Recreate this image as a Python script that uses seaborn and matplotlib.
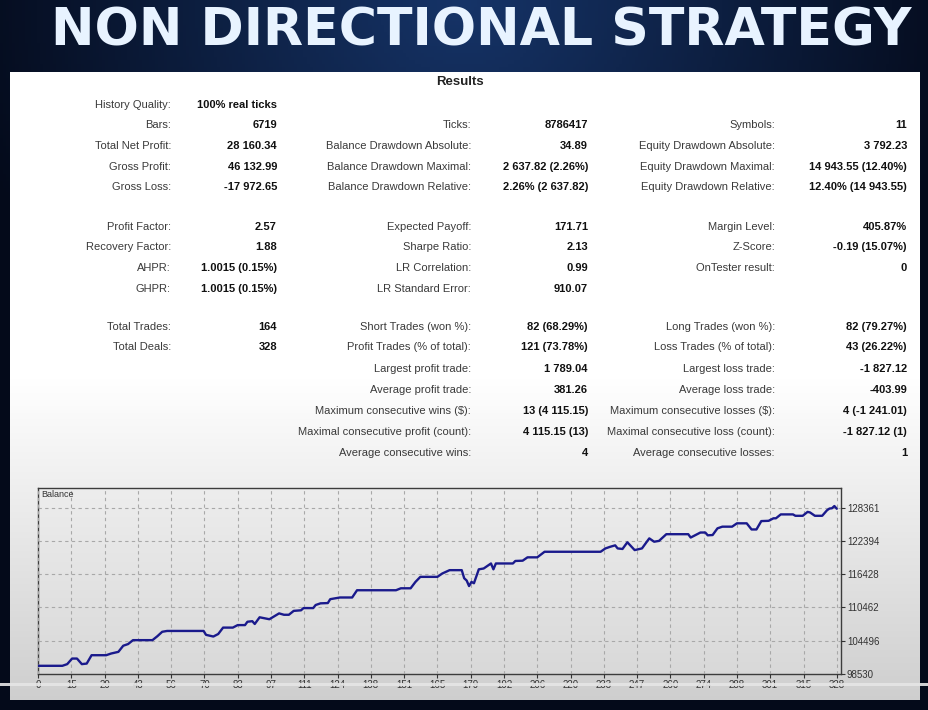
import numpy as np
import pandas as pd
import matplotlib
matplotlib.use("Agg")
import matplotlib.pyplot as plt
import seaborn as sns
from matplotlib.patches import Rectangle

# ---------------- data ----------------
title = "NON DIRECTIONAL STRATEGY"
section = "Results"

col1_labels = ["History Quality:", "Bars:", "Total Net Profit:", "Gross Profit:", "Gross Loss:",
               "Profit Factor:", "Recovery Factor:", "AHPR:", "GHPR:",
               "Total Trades:", "Total Deals:"]
col1_values = ["100% real ticks", "6719", "28 160.34", "46 132.99", "-17 972.65",
               "2.57", "1.88", "1.0015 (0.15%)", "1.0015 (0.15%)",
               "164", "328"]
col1_rows = [0, 1, 2, 3, 4, 5, 6, 7, 8, 9, 10]

col2_labels = ["Ticks:", "Balance Drawdown Absolute:", "Balance Drawdown Maximal:", "Balance Drawdown Relative:",
               "Expected Payoff:", "Sharpe Ratio:", "LR Correlation:", "LR Standard Error:",
               "Short Trades (won %):", "Profit Trades (% of total):", "Largest profit trade:",
               "Average profit trade:", "Maximum consecutive wins ($):", "Maximal consecutive profit (count):",
               "Average consecutive wins:"]
col2_values = ["8786417", "34.89", "2 637.82 (2.26%)", "2.26% (2 637.82)",
               "171.71", "2.13", "0.99", "910.07",
               "82 (68.29%)", "121 (73.78%)", "1 789.04",
               "381.26", "13 (4 115.15)", "4 115.15 (13)",
               "4"]
col2_rows = [1, 2, 3, 4, 5, 6, 7, 8, 9, 10, 11, 12, 13, 14, 15]

col3_labels = ["Symbols:", "Equity Drawdown Absolute:", "Equity Drawdown Maximal:", "Equity Drawdown Relative:",
               "Margin Level:", "Z-Score:", "OnTester result:",
               "Long Trades (won %):", "Loss Trades (% of total):", "Largest loss trade:",
               "Average loss trade:", "Maximum consecutive losses ($):", "Maximal consecutive loss (count):",
               "Average consecutive losses:"]
col3_values = ["11", "3 792.23", "14 943.55 (12.40%)", "12.40% (14 943.55)",
               "405.87%", "-0.19 (15.07%)", "0",
               "82 (79.27%)", "43 (26.22%)", "-1 827.12",
               "-403.99", "4 (-1 241.01)", "-1 827.12 (1)",
               "1"]
col3_rows = [1, 2, 3, 4, 5, 6, 7, 9, 10, 11, 12, 13, 14, 15]

row_y = [105, 125.5, 146, 167, 187.5, 227, 247.5, 268, 289, 327, 347.5, 369, 390, 411, 432, 453]

deal = [0, 10, 12, 14, 16, 18, 20, 22, 28, 30, 33, 35, 37, 39, 47, 49, 51, 53, 68, 69,
        72, 74, 76, 80, 82, 85, 86, 88, 89, 91, 95, 99, 101, 103, 105, 108, 109, 113, 114, 116,
        119, 120, 124, 129, 131, 147, 149, 153, 155, 157, 164, 166, 169, 174, 175, 176, 177, 178, 179, 181,
        183, 185, 186, 187, 188, 195, 196, 199, 201, 205, 208, 231, 233, 235, 237, 238, 240, 242, 245, 248,
        251, 253, 255, 258, 267, 268, 270, 272, 274, 275, 277, 279, 281, 285, 287, 291, 293, 295, 297, 300,
        302, 303, 305, 310, 311, 314, 316, 317, 319, 322, 324, 325, 326, 327, 328]
balance = [100000, 100000, 100300, 101300, 101300, 100300, 100400, 101900, 101900, 102200,
           102500, 103600, 103900, 104600, 104600, 105300, 106100, 106250, 106250, 105550,
           105250, 105700, 106850, 106850, 107300, 107300, 107900, 108000, 107500, 108700,
           108350, 109400, 109150, 109150, 109850, 109950, 110350, 110350, 110900, 111200,
           111250, 111950, 112250, 112250, 113550, 113550, 113900, 113900, 115050, 115950,
           115950, 116550, 117150, 117150, 115700, 115300, 114300, 115050, 114800, 117300,
           117450, 118050, 118350, 117300, 118350, 118350, 118800, 118850, 119450, 119450,
           120450, 120450, 121050, 121350, 121600, 121050, 120950, 122150, 120750, 121050,
           122850, 122250, 122400, 123600, 123600, 123000, 123450, 123900, 123900, 123400,
           123450, 124650, 124950, 124950, 125550, 125550, 124450, 124450, 125950, 126000,
           126450, 126450, 127150, 127150, 126900, 126900, 127600, 127500, 126900, 126900,
           127900, 128200, 128250, 128650, 128160]

x_tick_labels = ["0", "15", "29", "43", "56", "70", "83", "97", "111", "124", "138", "151", "165",
                 "179", "192", "206", "220", "233", "247", "260", "274", "288", "301", "315", "328"]
y_ticks = [98530, 104496, 110462, 116428, 122394, 128361]

df = pd.DataFrame({"deal": deal, "balance": balance})

# ---------------- figure ----------------
sns.set_theme(style="white")
plt.rcParams['font.family'] = ['Liberation Sans', 'DejaVu Sans']

W, H = 929, 710
fig = plt.figure(figsize=(W / 100, H / 100), dpi=100)

bg = fig.add_axes([0, 0, 1, 1], zorder=0)
bg.set_xlim(0, W)
bg.set_ylim(H, 0)
bg.axis('off')

# dark navy background
xx = np.linspace(-1, 1, 300)
yy = np.linspace(0, 1, 200)
X, Y = np.meshgrid(xx, yy)
glow = np.clip(1 - np.sqrt((X * 0.9) ** 2 + (Y * 1.6) ** 2), 0, 1)
c0 = np.array([4, 10, 26]) / 255.0
c1 = np.array([22, 52, 104]) / 255.0
img = c0[None, None, :] + (c1 - c0)[None, None, :] * glow[:, :, None]
bg.imshow(img, extent=[0, W, H, 0], aspect='auto', zorder=0)

# panel with vertical gradient
py = np.linspace(72, 700, 400)
shade = np.where(py < 380, 1.0, 1.0 - (py - 380) / (700 - 380) * 0.19)
panel = np.repeat(shade[:, None], 2, axis=1)
panel = np.dstack([panel, panel, panel])
bg.imshow(panel, extent=[10, 920, 700, 72], aspect='auto', zorder=1)

# title
bg.text(481, 45, title, fontsize=37.5, fontweight='bold', color='#e8f3ff',
        family=['DejaVu Sans'], ha='center', va='baseline', zorder=3)
bg.text(460, 82, section, fontsize=9.5, fontweight='bold', color='#222222',
        ha='center', va='center', zorder=3)

lab_kw = dict(fontsize=8, color='#3a3a3a', ha='right', va='center', zorder=3)
val_kw = dict(fontsize=8, color='#111111', ha='right', va='center', fontweight='bold', zorder=3)
for labs, vals, rows, lx, vx in [(col1_labels, col1_values, col1_rows, 171, 277),
                                 (col2_labels, col2_values, col2_rows, 471, 588),
                                 (col3_labels, col3_values, col3_rows, 775, 907)]:
    for l, v, r in zip(labs, vals, rows):
        bg.text(lx, row_y[r], l, **lab_kw)
        bg.text(vx, row_y[r], v, **val_kw)

# ---------------- balance chart ----------------
ax = fig.add_axes([38 / W, 1 - 674 / H, (840.7 - 38) / W, (674 - 488.3) / H], zorder=2)
grad = np.linspace(0.93, 0.85, 100)[:, None]
grad = np.dstack([grad, grad, grad])
ax.imshow(grad, extent=[0, 1, 0, 1], transform=ax.transAxes, aspect='auto', zorder=0)

sns.lineplot(data=df, x="deal", y="balance", ax=ax, color='#1a1a8c', linewidth=1.7, zorder=3)

ax.set_xlim(0, 329.6)
ax.set_ylim(98530, 131830)
ax.set_xticks(np.linspace(0, 328, len(x_tick_labels)))
ax.set_xticklabels(x_tick_labels)
ax.set_yticks(y_ticks)
ax.set_yticklabels([str(v) for v in y_ticks])
ax.yaxis.tick_right()
ax.set_xlabel("")
ax.set_ylabel("")
ax.tick_params(axis='both', labelsize=7, colors='#333333', length=3, width=0.8, pad=1.5)
ax.tick_params(axis='x', bottom=True)
ax.tick_params(axis='y', right=True)
ax.grid(True, linestyle=(0, (3, 3)), color='#a8a8a8', linewidth=0.8, zorder=1)
ax.set_axisbelow(False)
for s in ax.spines.values():
    s.set_color('#3c3c3c')
    s.set_linewidth(1.0)
    s.set_visible(True)
ax.text(0.004, 0.965, "Balance", transform=ax.transAxes, fontsize=6.5, color='#333333',
        ha='left', va='center', zorder=4)

# overlay band (video progress bar)
ov = fig.add_axes([0, 0, 1, 1], zorder=10)
ov.set_xlim(0, W)
ov.set_ylim(H, 0)
ov.axis('off')
ov.patch.set_alpha(0)
ov.add_patch(Rectangle((0, 682.5), W, 3.8, facecolor='#e6e6e6', edgecolor='none', alpha=0.9))

fig.savefig("out.png", dpi=100)
